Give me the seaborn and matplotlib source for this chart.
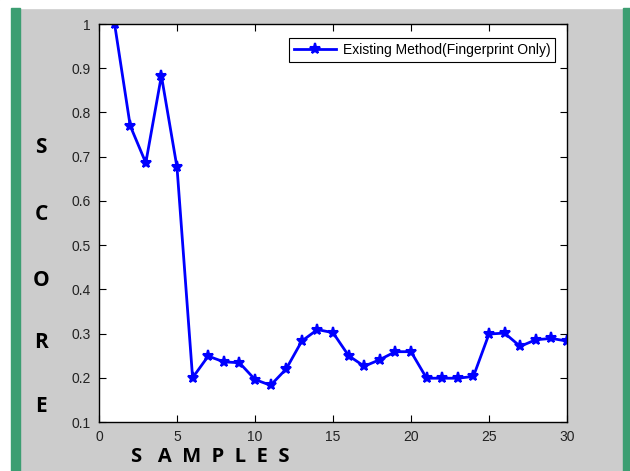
import numpy as np
import pandas as pd
import seaborn as sns
import matplotlib.pyplot as plt
from matplotlib.patches import Rectangle

samples = list(range(1, 31))
score = [1.0, 0.77, 0.686, 0.883, 0.676, 0.200, 0.249, 0.236, 0.234, 0.196,
         0.183, 0.220, 0.283, 0.309, 0.302, 0.250, 0.226, 0.241, 0.259, 0.259,
         0.199, 0.199, 0.199, 0.203, 0.299, 0.301, 0.271, 0.286, 0.289, 0.283]
series_name = "Existing Method(Fingerprint Only)"
x_ticks = [0, 5, 10, 15, 20, 25, 30]
y_ticks = [0.1, 0.2, 0.3, 0.4, 0.5, 0.6, 0.7, 0.8, 0.9, 1.0]
y_tick_labels = ["0.1", "0.2", "0.3", "0.4", "0.5", "0.6", "0.7", "0.8", "0.9", "1"]

plt.rcParams["font.family"] = ["Liberation Sans", "DejaVu Sans"]

df = pd.DataFrame({"sample": samples, "score": score, "method": series_name})

W, H = 630, 471
fig = plt.figure(figsize=(W / 100, H / 100), dpi=100, facecolor="#cccccc")

# page decoration: white strip at top / left, green side bars
fig.patches.append(Rectangle((0, 1 - 8 / H), 1, 8 / H, transform=fig.transFigure,
                             color="white", zorder=0))
fig.patches.append(Rectangle((0, 0), 11 / W, 1 - 8 / H, transform=fig.transFigure,
                             color="white", zorder=0))
fig.patches.append(Rectangle((11 / W, 0), 9 / W, 1 - 8 / H, transform=fig.transFigure,
                             color="#3c9e72", zorder=1))
fig.patches.append(Rectangle((623 / W, 0), 7 / W, 1 - 8 / H, transform=fig.transFigure,
                             color="#3c9e72", zorder=1))

ax = fig.add_axes([99 / W, (H - 422) / H, (567 - 99) / W, (422 - 24) / H])
ax.set_facecolor("white")

sns.lineplot(data=df, x="sample", y="score", hue="method", palette=["#0000ff"],
             marker="*", markersize=8, linewidth=2, markeredgewidth=1.5,
             markeredgecolor="#0000ff", ax=ax)

ax.set_xlim(0, 30)
ax.set_ylim(0.1, 1.0)
ax.set_xticks(x_ticks)
ax.set_yticks(y_ticks)
ax.set_yticklabels(y_tick_labels)
ax.tick_params(direction="in", length=5, width=0.8, top=True, right=True,
               labelsize=10, labelcolor="#222222", color="black")
ax.tick_params(axis="y", pad=6)
ax.tick_params(axis="x", pad=6)
ax.set_xlabel("")
ax.set_ylabel("")
for s in ax.spines.values():
    s.set_linewidth(1.0)
    s.set_color("black")

leg = ax.legend(loc="upper right", fontsize=10, frameon=True, fancybox=False,
                edgecolor="black", framealpha=1, borderpad=0.35, handlelength=3,
                handletextpad=0.5, bbox_to_anchor=(0.99, 0.982))
leg.get_frame().set_linewidth(0.8)

for ch, y in zip("SCORE", [148, 215, 280, 342, 407]):
    fig.text(41 / W, 1 - y / H, ch, ha="center", va="center", fontsize=15,
             fontweight="bold", family=["Open Sans", "DejaVu Sans"])

fig.text(210 / W, 1 - 457 / H, "S   A  M  P  L  E  S", ha="center", va="center",
         fontsize=14.5, fontweight="bold", family=["Open Sans", "DejaVu Sans"])

fig.savefig("out.png", dpi=100, facecolor=fig.get_facecolor())
